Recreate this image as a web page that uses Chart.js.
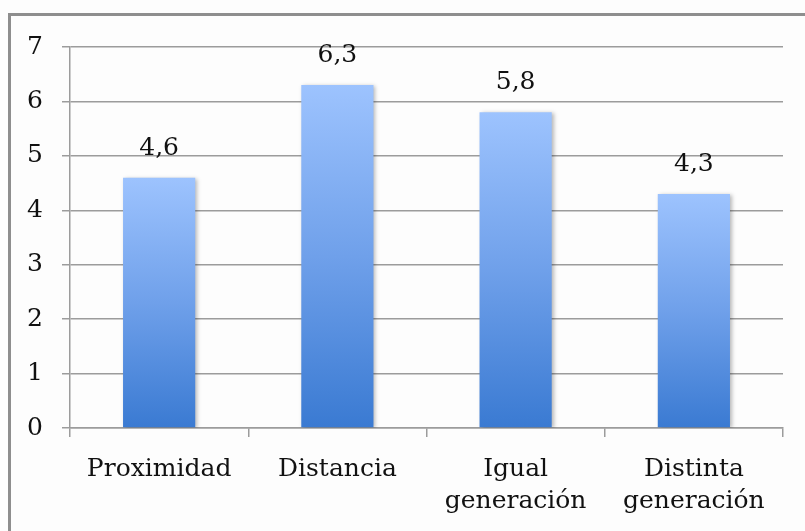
<!DOCTYPE html>
<html>
<head>
<meta charset="utf-8">
<script src="https://cdn.jsdelivr.net/npm/chart.js@4/dist/chart.umd.min.js"></script>
<style>
  html, body { margin: 0; padding: 0; background: #ffffff; }
  #wrap { position: relative; width: 805px; height: 531px; background: #fdfdfd; }
  #frame { position: absolute; left: 8px; top: 13px; width: 820px; height: 540px;
           border-left: 3px solid #8e8e8e; border-top: 3px solid #8e8e8e; box-sizing: border-box; }
  canvas { position: absolute; left: 0; top: 0; }
</style>
</head>
<body>
<div id="wrap">
  <div id="frame"></div>
  <canvas id="c" width="805" height="531"></canvas>
</div>
<script>
const categories = [['Proximidad'], ['Distancia'], ['Igual', 'generación'], ['Distinta', 'generación']];
const values = [4.6, 6.3, 5.8, 4.3];
const yTicks = [0, 1, 2, 3, 4, 5, 6, 7];

const FONT = 'DejaVu Serif';
const FONT_SIZE = 25;
const gridColor = '#9c9c9c';

// Vertical gradient running from each bar's top down to the baseline
function barGradient(ctx) {
  const chart = ctx.chart;
  const area = chart.chartArea;
  if (!area || ctx.type !== 'data') return '#6fa0ea';
  const y = chart.scales.y;
  const top = y.getPixelForValue(ctx.raw);
  const base = y.getPixelForValue(0);
  const g = chart.ctx.createLinearGradient(0, top, 0, base);
  g.addColorStop(0, '#9dc3fe');
  g.addColorStop(0.5, '#6fa0ea');
  g.addColorStop(1, '#3a7ad2');
  return g;
}

// Soft shadow behind the bars
const barShadow = {
  id: 'barShadow',
  beforeDatasetsDraw(chart) {
    const c = chart.ctx;
    c.save();
    c.shadowColor = 'rgba(0,0,0,0.28)';
    c.shadowBlur = 4;
    c.shadowOffsetX = 2;
    c.shadowOffsetY = 1;
  },
  afterDatasetsDraw(chart) {
    chart.ctx.restore();
  }
};

// Value labels above each bar, decimal comma
const valueLabels = {
  id: 'valueLabels',
  afterDatasetsDraw(chart) {
    const c = chart.ctx;
    const meta = chart.getDatasetMeta(0);
    c.save();
    c.shadowColor = 'transparent';
    c.font = FONT_SIZE + 'px "' + FONT + '"';
    c.fillStyle = '#111111';
    c.textAlign = 'center';
    c.textBaseline = 'alphabetic';
    meta.data.forEach((bar, i) => {
      const txt = values[i].toFixed(1).replace('.', ',');
      c.fillText(txt, bar.x, bar.y - 23);
    });
    c.restore();
  }
};

new Chart(document.getElementById('c'), {
  type: 'bar',
  data: {
    labels: categories,
    datasets: [{
      data: values,
      backgroundColor: barGradient,
      borderWidth: 0,
      categoryPercentage: 1,
      barPercentage: 0.405
    }]
  },
  options: {
    responsive: false,
    animation: false,
    devicePixelRatio: 1,
    layout: { padding: { top: 47, right: 22, left: 0, bottom: 0 } },
    plugins: { legend: { display: false }, tooltip: { enabled: false } },
    scales: {
      x: {
        afterFit: s => { s.height = 103; },
        grid: { offset: true, drawOnChartArea: false, drawTicks: true, tickLength: 9, color: gridColor, lineWidth: 1.5 },
        border: { display: true, color: gridColor, width: 1.5 },
        ticks: { color: '#111111', padding: 17, font: { family: FONT, size: FONT_SIZE, lineHeight: 1.26 }, maxRotation: 0, autoSkip: false }
      },
      y: {
        min: 0, max: 7,
        afterFit: s => { s.width = 70; },
        afterBuildTicks: s => { s.ticks = yTicks.map(v => ({ value: v })); },
        grid: { color: gridColor, lineWidth: 1.5, tickLength: 8 },
        border: { display: true, color: gridColor, width: 1.5 },
        ticks: { color: '#111111', padding: 19, font: { family: FONT, size: FONT_SIZE } }
      }
    }
  },
  plugins: [barShadow, valueLabels]
});
</script>
</body>
</html>
